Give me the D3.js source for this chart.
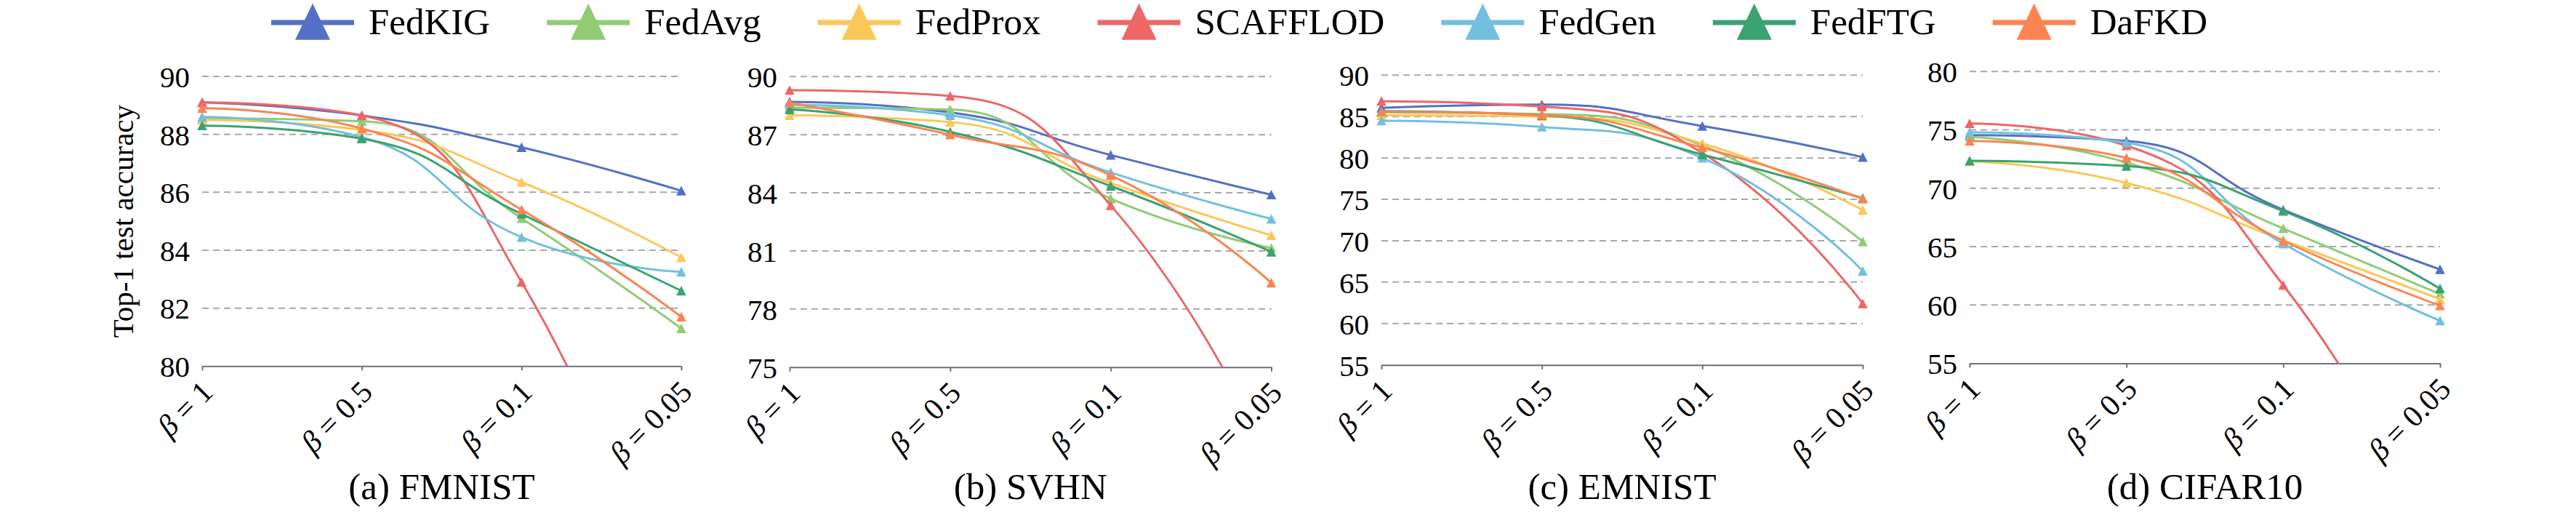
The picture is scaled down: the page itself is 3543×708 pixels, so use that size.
<!DOCTYPE html>
<html>
<head>
<meta charset="utf-8">
<script src="https://cdn.jsdelivr.net/npm/d3@7/dist/d3.min.js"></script>
<style>
  html, body { margin: 0; padding: 0; background: #ffffff; }
  svg { display: block; }
  text { font-family: "Liberation Serif", "Times New Roman", serif; fill: #000; }
</style>
</head>
<body>
<svg id="chart" width="3543" height="708"></svg>
<script>
// ---------------- data ----------------
const categories = ["1", "0.5", "0.1", "0.05"];
const seriesNames = ["FedKIG", "FedAvg", "FedProx", "SCAFFLOD", "FedGen", "FedFTG", "DaFKD"];
const seriesColors = ["#5470c6", "#91cc75", "#fac858", "#ee6666", "#73c0de", "#3ba272", "#fc8452"];

const panelTitles = ["(a) FMNIST", "(b) SVHN", "(c) EMNIST", "(d) CIFAR10"];

const fmnistTicks = [80, 82, 84, 86, 88, 90];
const svhnTicks = [75, 78, 81, 84, 87, 90];
const emnistTicks = [55, 60, 65, 70, 75, 80, 85, 90];
const cifarTicks = [55, 60, 65, 70, 75, 80];

// rows follow seriesNames, columns follow categories
const fmnistValues = [
  [89.1, 88.65, 87.55, 86.05],
  [88.55, 88.45, 85.1, 81.3],
  [88.5, 88.15, 86.35, 83.75],
  [89.1, 88.65, 82.9, 70.0],
  [88.6, 87.9, 84.45, 83.25],
  [88.3, 87.85, 85.25, 82.6],
  [88.9, 88.2, 85.4, 81.7]
];
const svhnValues = [
  [88.7, 88.15, 85.95, 83.9],
  [88.4, 88.3, 83.7, 81.15],
  [88.0, 87.65, 84.5, 81.8],
  [89.3, 89.0, 83.35, 70.0],
  [88.55, 88.0, 85.05, 82.65],
  [88.3, 87.15, 84.35, 80.95],
  [88.65, 87.0, 84.9, 79.35]
];
const emnistValues = [
  [86.05, 86.45, 83.85, 80.1],
  [85.5, 85.3, 81.5, 69.9],
  [85.15, 85.0, 81.75, 73.7],
  [86.85, 86.2, 80.6, 62.4],
  [84.5, 83.75, 80.0, 66.35],
  [85.65, 85.15, 80.4, 75.15],
  [85.6, 85.2, 81.25, 75.05]
];
const cifarValues = [
  [74.55, 74.05, 68.15, 63.05],
  [74.4, 72.2, 66.55, 60.95],
  [72.3, 70.45, 65.55, 60.5],
  [75.55, 73.65, 61.7, 39.0],
  [74.8, 73.9, 65.25, 58.65],
  [72.35, 71.9, 68.05, 61.4],
  [74.05, 72.6, 65.5, 59.95]
];

const panelTicks = [fmnistTicks, svhnTicks, emnistTicks, cifarTicks];
const panelValues = [fmnistValues, svhnValues, emnistValues, cifarValues];

// ---------------- layout ----------------
const panelBoxes = [
  { x0: 278, x1: 937, top: 105, bottom: 503.3 },
  { x0: 1086, x1: 1748.5, top: 105.3, bottom: 504.7 },
  { x0: 1900, x1: 2562, top: 103.3, bottom: 501.7 },
  { x0: 2709, x1: 3356, top: 98.3, bottom: 499.5 }
];

// ECharts-like smooth bezier curve (smooth = 0.5, with bounding constraints)
function echartsSmooth(context) {
  let pts;
  return {
    areaStart() {}, areaEnd() {},
    lineStart() { pts = []; },
    point(x, y) { pts.push([+x, +y]); },
    lineEnd() {
      const smooth = 0.5;
      const n = pts.length;
      if (!n) return;
      let cp0x = pts[0][0], cp0y = pts[0][1];
      context.moveTo(cp0x, cp0y);
      for (let i = 1; i < n; i++) {
        const x = pts[i][0], y = pts[i][1];
        const px = pts[i - 1][0], py = pts[i - 1][1];
        let cp1x, cp1y, ncx = x, ncy = y;
        if (i === n - 1) { cp1x = x; cp1y = y; }
        else {
          const nx = pts[i + 1][0], ny = pts[i + 1][1];
          let vx = nx - px, vy = ny - py;
          const lp = Math.hypot(x - px, y - py), ln = Math.hypot(nx - x, ny - y);
          const r = ln / (ln + lp);
          ncx = x + vx * smooth * r; ncy = y + vy * smooth * r;
          ncx = Math.min(ncx, Math.max(nx, x)); ncy = Math.min(ncy, Math.max(ny, y));
          ncx = Math.max(ncx, Math.min(nx, x)); ncy = Math.max(ncy, Math.min(ny, y));
          vx = ncx - x; vy = ncy - y;
          cp1x = x - vx * lp / ln; cp1y = y - vy * lp / ln;
          cp1x = Math.min(cp1x, Math.max(px, x)); cp1y = Math.min(cp1y, Math.max(py, y));
          cp1x = Math.max(cp1x, Math.min(px, x)); cp1y = Math.max(cp1y, Math.min(py, y));
          vx = x - cp1x; vy = y - cp1y;
          ncx = x + vx * ln / lp; ncy = y + vy * ln / lp;
        }
        context.bezierCurveTo(cp0x, cp0y, cp1x, cp1y, x, y);
        cp0x = ncx; cp0y = ncy;
      }
    }
  };
}

const svg = d3.select("#chart");
const defs = svg.append("defs");
// small marker: d3 triangle stretched a little vertically, bbox centred on the point
const triSmall = d3.symbol().type(d3.symbolTriangle).size(80);

panelBoxes.forEach((box, p) => {
  const ticks = panelTicks[p];
  const values = panelValues[p];
  const x = d3.scalePoint().domain(categories).range([box.x0, box.x1]);
  const y = d3.scaleLinear().domain([d3.min(ticks), d3.max(ticks)]).range([box.bottom, box.top]);

  const g = svg.append("g");

  // dashed grid lines (all but bottom)
  g.append("g").selectAll("line").data(ticks.slice(1)).join("line")
    .attr("x1", box.x0).attr("x2", box.x1)
    .attr("y1", d => y(d)).attr("y2", d => y(d))
    .attr("stroke", "#a8a8a8").attr("stroke-width", 2)
    .attr("stroke-dasharray", "9,6");

  // y axis labels
  const yAxis = d3.axisLeft(y).tickValues(ticks).tickSize(0).tickPadding(17).tickFormat(d3.format("d"));
  const ya = g.append("g").attr("transform", `translate(${box.x0},0)`).call(yAxis);
  ya.select(".domain").remove();
  ya.selectAll("text").style("font-size", "41px").attr("fill", "#000").attr("dy", "0.35em");

  // x axis
  const xAxis = d3.axisBottom(x).tickSize(6).tickSizeOuter(0).tickFormat("");
  const xa = g.append("g").attr("transform", `translate(0,${box.bottom})`).call(xAxis);
  xa.select(".domain").attr("stroke", "#6e7079").attr("stroke-width", 2);
  xa.selectAll(".tick line").attr("stroke", "#6e7079").attr("stroke-width", 2);

  // rotated x labels
  const lab = g.append("g").selectAll("text").data(categories).join("text")
    .attr("transform", d => `translate(${x(d) + 17},${box.bottom + 38}) rotate(-45)`)
    .attr("text-anchor", "end")
    .style("font-size", "42px");
  lab.append("tspan").attr("font-style", "italic").text("β");
  lab.append("tspan").text(d => " = " + d);

  // clip
  const clipId = "clip" + p;
  defs.append("clipPath").attr("id", clipId).append("rect")
    .attr("x", box.x0 - 20).attr("y", box.top - 20)
    .attr("width", box.x1 - box.x0 + 40).attr("height", box.bottom - box.top + 20);

  const line = d3.line()
    .x((d, i) => x(categories[i]))
    .y(d => y(d))
    .curve(echartsSmooth);

  values.forEach((vals, s) => {
    const sg = g.append("g");
    sg.append("path").datum(vals)
      .attr("d", line)
      .attr("fill", "none")
      .attr("stroke", seriesColors[s])
      .attr("stroke-width", 3)
      .attr("clip-path", `url(#${clipId})`);
    sg.selectAll("path.mk").data(vals.map((v, i) => ({ v, c: categories[i] })).filter(d => d.v >= y.domain()[0]))
      .join("path").attr("class", "mk")
      .attr("d", triSmall)
      .attr("transform", d => `translate(${x(d.c)},${y(d.v) + 2}) scale(1,1.12)`)
      .attr("fill", seriesColors[s]);
  });

  // subtitle
  svg.append("text")
    .attr("x", (box.x0 + box.x1) / 2).attr("y", 686)
    .attr("text-anchor", "middle")
    .style("font-size", "51px")
    .text(panelTitles[p]);
});

// y axis title
svg.append("text")
  .attr("transform", `translate(183,${(panelBoxes[0].top + panelBoxes[0].bottom) / 2}) rotate(-90)`)
  .attr("text-anchor", "middle")
  .style("font-size", "41px")
  .text("Top-1 test accuracy");

// legend
const legend = svg.append("g");
const triBig = d3.symbol().type(d3.symbolTriangle).size(1000);
let lx = 373;
seriesNames.forEach((name, s) => {
  const it = legend.append("g").attr("transform", `translate(${lx},31)`);
  it.append("line").attr("x1", 0).attr("x2", 114).attr("y1", 0).attr("y2", 0)
    .attr("stroke", seriesColors[s]).attr("stroke-width", 7);
  it.append("path").attr("d", triBig).attr("transform", "translate(57,7) scale(1,1.2)").attr("fill", seriesColors[s]);
  const t = it.append("text").attr("x", 134).attr("y", 16).style("font-size", "51px").text(name);
  const w = t.node().getComputedTextLength();
  lx += 134 + w + 78;
});
</script>
</body>
</html>
